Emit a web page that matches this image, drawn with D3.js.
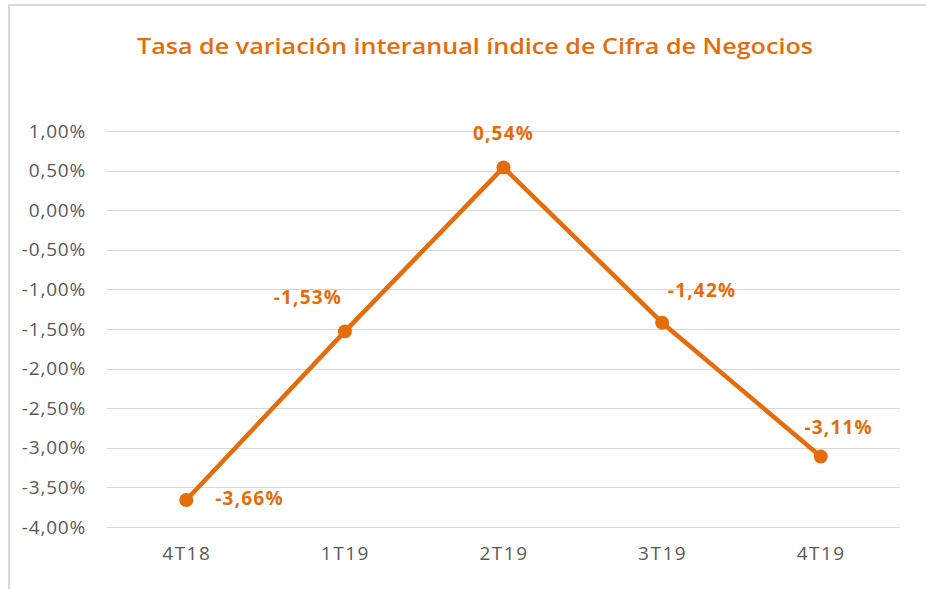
<!DOCTYPE html>
<html>
<head>
<meta charset="utf-8">
<script src="https://cdn.jsdelivr.net/npm/d3@7"></script>
<style>
  body { margin: 0; background: #fff; }
  svg { display: block; }
</style>
</head>
<body>
<div id="chart"></div>
<script>
// datos
const categories = ["4T18", "1T19", "2T19", "3T19", "4T19"];
const values = [-3.66, -1.53, 0.54, -1.42, -3.11];
const yTicks = [1, 0.5, 0, -0.5, -1, -1.5, -2, -2.5, -3, -3.5, -4];
// posicion de etiqueta respecto al punto: [dx, dy, anchor]
const labelPos = [[29, -2, "start"], [-37, -34, "middle"], [0, -34, "middle"], [40, -32, "middle"], [18, -29, "middle"]];

const width = 926, height = 589;
const orange = "#E46C0A";
const margin = {top: 131, right: 26, bottom: 62, left: 107};

const svg = d3.select("#chart").append("svg")
  .attr("width", width)
  .attr("height", height);

// borde del grafico
svg.append("rect")
  .attr("x", 9).attr("y", 5)
  .attr("width", width + 10).attr("height", height + 10)
  .attr("fill", "none")
  .attr("stroke", "#d9d9d9")
  .attr("stroke-width", 2);

svg.append("text")
  .attr("x", 475).attr("y", 54)
  .attr("text-anchor", "middle")
  .attr("font-family", "'Open Sans', sans-serif")
  .attr("font-size", 22)
  .attr("font-weight", 600)
  .attr("fill", orange)
  .attr("textLength", 676)
  .attr("lengthAdjust", "spacingAndGlyphs")
  .text("Tasa de variación interanual índice de Cifra de Negocios");

const x = d3.scalePoint()
  .domain(categories)
  .range([margin.left, width - margin.right])
  .padding(0.5);

const y = d3.scaleLinear()
  .domain([-4, 1])
  .range([height - margin.bottom, margin.top]);

const fmt = v => d3.format(".2f")(v).replace("\u2212", "-").replace(".", ",") + "%";

// lineas de cuadricula
svg.append("g")
  .selectAll("line")
  .data(yTicks)
  .join("line")
  .attr("x1", margin.left).attr("x2", width - margin.right)
  .attr("y1", d => Math.round(y(d)) + 0.5)
  .attr("y2", d => Math.round(y(d)) + 0.5)
  .attr("stroke", "#d9d9d9")
  .attr("stroke-width", 1);

// eje y
const yAxis = svg.append("g")
  .attr("transform", `translate(${margin.left},0)`)
  .call(d3.axisLeft(y).tickValues(yTicks).tickSize(0).tickPadding(21).tickFormat(fmt));
yAxis.select(".domain").remove();
yAxis.selectAll("text")
  .attr("font-family", "'Open Sans', sans-serif")
  .attr("font-size", 19)
  .attr("letter-spacing", 0.8)
  .attr("fill", "#595959");

// eje x
const xAxis = svg.append("g")
  .attr("transform", `translate(0,${height - margin.bottom})`)
  .call(d3.axisBottom(x).tickSize(0).tickPadding(20));
xAxis.select(".domain").remove();
xAxis.selectAll("text")
  .attr("font-family", "'Open Sans', sans-serif")
  .attr("font-size", 19)
  .attr("letter-spacing", 1.5)
  .attr("fill", "#595959");

const pts = categories.map((c, i) => ({c, v: values[i], i}));

svg.append("path")
  .datum(pts)
  .attr("fill", "none")
  .attr("stroke", orange)
  .attr("stroke-width", 4.5)
  .attr("stroke-linejoin", "round")
  .attr("d", d3.line().x(d => x(d.c)).y(d => y(d.v)));

svg.append("g")
  .selectAll("circle")
  .data(pts)
  .join("circle")
  .attr("cx", d => x(d.c))
  .attr("cy", d => y(d.v))
  .attr("r", 7)
  .attr("fill", orange);

svg.append("g")
  .selectAll("text")
  .data(pts)
  .join("text")
  .attr("x", d => x(d.c) + labelPos[d.i][0])
  .attr("y", d => y(d.v) + labelPos[d.i][1])
  .attr("dy", "0.35em")
  .attr("text-anchor", d => labelPos[d.i][2])
  .attr("font-family", "'Open Sans', sans-serif")
  .attr("font-size", 19)
  .attr("letter-spacing", 1.2)
  .attr("font-weight", 700)
  .attr("fill", orange)
  .text(d => fmt(d.v));
</script>
</body>
</html>
